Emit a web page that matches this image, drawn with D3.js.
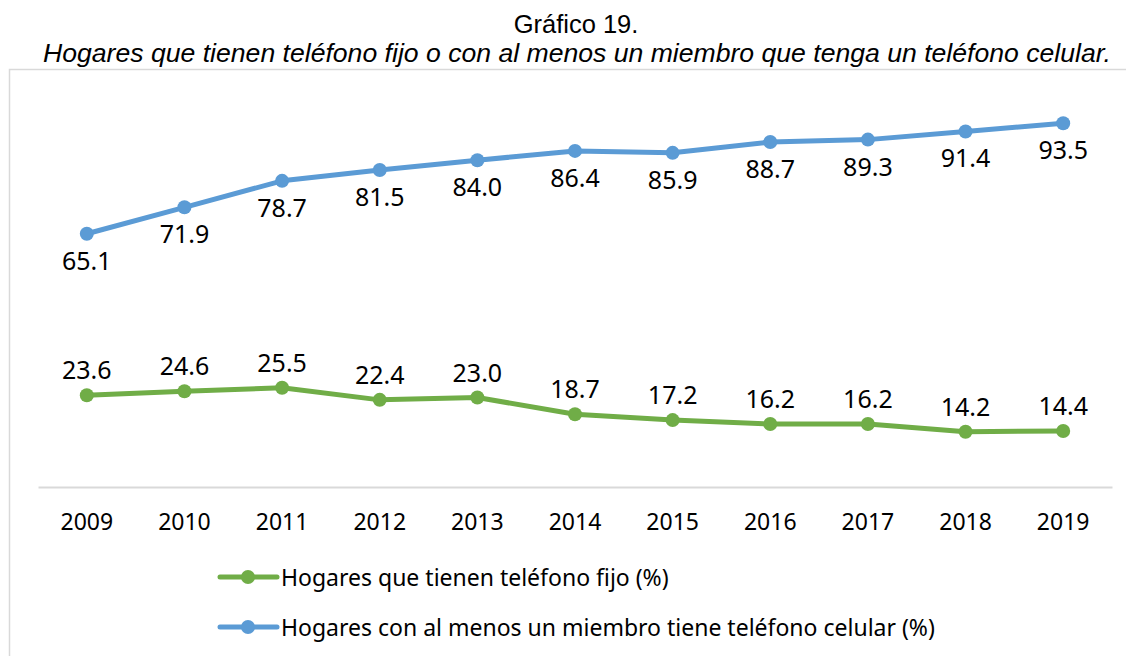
<!DOCTYPE html>
<html>
<head>
<meta charset="utf-8">
<style>
body { margin: 0; background: #fff; }
svg { display: block; }
</style>
</head>
<body>
<script src="https://cdn.jsdelivr.net/npm/d3@7"></script>
<script>

var years = ["2009","2010","2011","2012","2013","2014","2015","2016","2017","2018","2019"];
var fijo = [23.6, 24.6, 25.5, 22.4, 23.0, 18.7, 17.2, 16.2, 16.2, 14.2, 14.4];
var celular = [65.1, 71.9, 78.7, 81.5, 84.0, 86.4, 85.9, 88.7, 89.3, 91.4, 93.5];
var seriesNames = ["Hogares que tienen teléfono fijo (%)",
                   "Hogares con al menos un miembro tiene teléfono celular (%)"];

var W = 1126, H = 656;
var green = "#70ad47", blue = "#5b9bd5";

var svg = d3.select("body").append("svg")
    .attr("width", W)
    .attr("height", H);

// titles
svg.append("text")
    .attr("x", 576).attr("y", 33)
    .attr("text-anchor", "middle")
    .attr("font-family", "Liberation Sans, Arial, sans-serif")
    .attr("font-size", 25.5)
    .text("Gráfico 19.");

svg.append("text")
    .attr("x", 577).attr("y", 62)
    .attr("text-anchor", "middle")
    .attr("font-family", "Liberation Sans, Arial, sans-serif")
    .attr("font-style", "italic")
    .attr("font-size", 26.6)
    .text("Hogares que tienen teléfono fijo o con al menos un miembro que tenga un teléfono celular.");

// chart frame (runs off the page on the right and bottom)
svg.append("rect")
    .attr("x", 9.5).attr("y", 69.5)
    .attr("width", 1200).attr("height", 700)
    .attr("fill", "none")
    .attr("stroke", "#d9d9d9")
    .attr("stroke-width", 1.5);

var x = d3.scaleBand().domain(years).range([38, 1112]);
var y = d3.scaleLinear().domain([0, 100]).range([487, 98]);

// category axis
var xAxis = svg.append("g")
    .attr("transform", "translate(0,487)")
    .call(d3.axisBottom(x).tickSize(0).tickPadding(27));
xAxis.select(".domain").attr("stroke", "#d9d9d9").attr("stroke-width", 2);
xAxis.selectAll("text")
    .attr("font-family", "Noto Sans, sans-serif")
    .attr("font-size", 23)
    .attr("fill", "#000");

var cx = d => x(d) + x.bandwidth() / 2;

var line = d3.line()
    .x((d, i) => cx(years[i]))
    .y(d => y(d));

function drawSeries(values, color, labelDy) {
    svg.append("path")
        .datum(values)
        .attr("fill", "none")
        .attr("stroke", color)
        .attr("stroke-width", 5)
        .attr("stroke-linejoin", "round")
        .attr("d", line);

    svg.append("g").selectAll("circle")
        .data(values)
        .enter().append("circle")
        .attr("cx", (d, i) => cx(years[i]))
        .attr("cy", d => y(d))
        .attr("r", 7)
        .attr("fill", color);

    svg.append("g").selectAll("text")
        .data(values)
        .enter().append("text")
        .attr("x", (d, i) => cx(years[i]))
        .attr("y", d => y(d) + labelDy)
        .attr("text-anchor", "middle")
        .attr("font-family", "Noto Sans, sans-serif")
        .attr("font-size", 25)
        .text(d => d.toFixed(1));
}

drawSeries(fijo, green, -16);
drawSeries(celular, blue, 36);

// legend
var legend = svg.append("g").selectAll("g")
    .data([[seriesNames[0], green], [seriesNames[1], blue]])
    .enter().append("g")
    .attr("transform", (d, i) => "translate(220," + (577 + i * 50) + ")");

legend.append("line")
    .attr("x1", 0).attr("x2", 57)
    .attr("stroke", d => d[1])
    .attr("stroke-width", 5)
    .attr("stroke-linecap", "round");

legend.append("circle")
    .attr("cx", 28).attr("r", 7)
    .attr("fill", d => d[1]);

legend.append("text")
    .attr("x", 61).attr("y", 9)
    .attr("font-family", "Noto Sans, sans-serif")
    .attr("font-size", 23)
    .text(d => d[0]);

</script>
</body>
</html>
